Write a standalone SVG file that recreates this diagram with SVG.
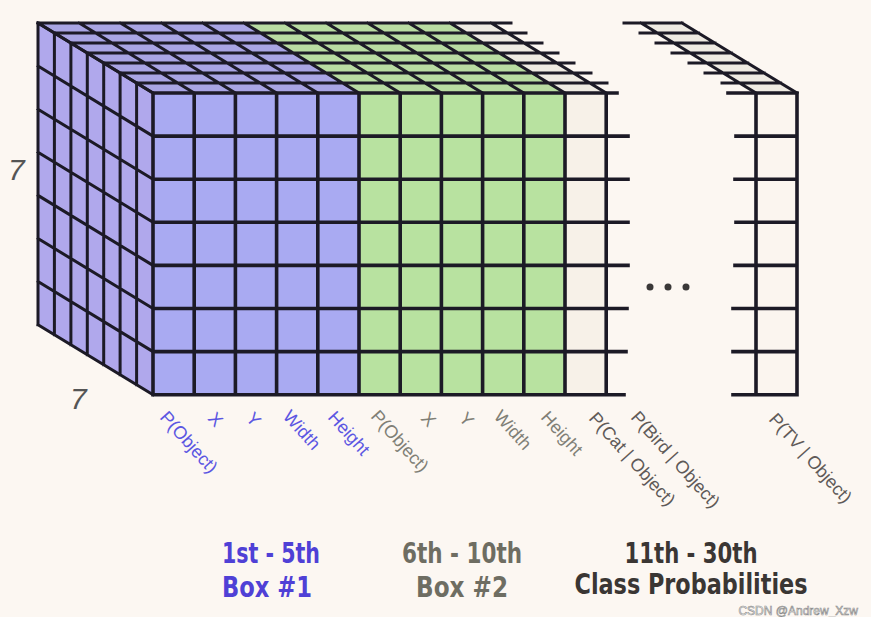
<svg xmlns="http://www.w3.org/2000/svg" width="871" height="617" viewBox="0 0 871 617">
<style>
.ln{fill:none;stroke:#1c1a26;stroke-linecap:square}
.fr{stroke-width:3.6}
.dp{stroke-width:3}
.lb{font-family:"Liberation Sans",Arial,sans-serif;font-size:18px}
.lbB{fill:#5b56e2}
.lbG{fill:#807f76}
.lbD{fill:#5f5a58}
.big{font-family:"DejaVu Sans Condensed","DejaVu Sans",sans-serif;font-size:29px;font-weight:bold;text-anchor:middle}
.seven{font-family:"Liberation Sans",Arial,sans-serif;font-size:30px;font-style:italic;fill:#555}
</style>
<rect width="871" height="617" fill="#fcf7f2"/>

<g id="main-cube">
  <polygon points="38,23 153,93 153,394.7 38,324.7" fill="#b0a8ec"/>
  <polygon points="153,93 359,93 244,23 38,23" fill="#a9a5e4"/>
  <polygon points="359,93 565,93 450,23 244,23" fill="#b9dca2"/>
  <polygon points="565,93 606.2,93 491.2,23 450,23" fill="#efebe3"/>
  <rect x="153" y="93" width="206" height="301.7" fill="#a9aaf2"/>
  <rect x="359" y="93" width="206" height="301.7" fill="#b8e2a0"/>
  <rect x="565" y="93" width="41.2" height="301.7" fill="#f7f1e8"/>
  <path class="ln dp" d="M38 23V324.7 M54.4 33V334.7 M70.9 43V344.7 M87.3 53V354.7 M103.7 63V364.7 M120.1 73V374.7 M136.6 83V384.7
    M38 23L153 93 M38 66.1L153 136.1 M38 109.2L153 179.2 M38 152.3L153 222.3 M38 195.4L153 265.4 M38 238.5L153 308.5 M38 281.6L153 351.6 M38 324.7L153 394.7"/>
  <path class="ln dp" d="M153 93L38 23 M194.2 93L79.2 23 M235.4 93L120.4 23 M276.6 93L161.6 23 M317.8 93L202.8 23 M359 93L244 23 M400.2 93L285.2 23 M441.4 93L326.4 23 M482.6 93L367.6 23 M523.8 93L408.8 23 M565 93L450 23 M606.2 93L491.2 23
    M38 23H511 M54.4 33H526 M70.9 43H542 M87.3 53H558 M103.7 63H574 M120.1 73H591 M136.6 83H607"/>
  <path class="ln fr" d="M153 93V394.7 M194.2 93V394.7 M235.4 93V394.7 M276.6 93V394.7 M317.8 93V394.7 M359 93V394.7 M400.2 93V394.7 M441.4 93V394.7 M482.6 93V394.7 M523.8 93V394.7 M565 93V394.7 M606.2 93V394.7
    M153 93H617 M153 136.1H628 M153 179.2H628 M153 222.3H628 M153 265.4H628 M153 308.5H627 M153 351.6H626 M153 394.7H624"/>
</g>

<g id="last-column">
  <polygon points="756,93 797,93 682,23 641,23" fill="#efebe3"/>
  <rect x="756" y="93" width="41" height="301.7" fill="#fbf5ef"/>
  <path class="ln dp" d="M756 93L641 23 M797 93L682 23
    M624 23H682 M640 33H698.4 M656 43H714.9 M672 53H731.3 M689 63H747.7 M705 73H764.1 M722 83H780.6"/>
  <path class="ln fr" d="M756 93V394.7 M797 93V394.7
    M728 93H797 M736 136.1H797 M735 179.2H797 M736 222.3H797 M735 265.4H797 M733 308.5H797 M733 351.6H797 M733 394.7H797"/>
</g>

<g id="ellipsis" fill="#3a3838">
  <circle cx="650" cy="287" r="3.5"/>
  <circle cx="668" cy="287" r="3.5"/>
  <circle cx="686" cy="287" r="3.5"/>
</g>

<g id="dims">
  <text class="seven" x="8" y="180">7</text>
  <text class="seven" x="70" y="409">7</text>
</g>

<g id="column-labels" class="lb">
  <text class="lbB" transform="translate(159,418) rotate(48)">P(Object)</text>
  <text class="lbB" transform="translate(207,419) rotate(48)">X</text>
  <text class="lbB" transform="translate(245,419) rotate(48)">Y</text>
  <text class="lbB" transform="translate(282,417) rotate(48)">Width</text>
  <text class="lbB" transform="translate(327,418) rotate(48)">Height</text>
  <text class="lbG" transform="translate(370,417) rotate(48)">P(Object)</text>
  <text class="lbG" transform="translate(420,419) rotate(48)">X</text>
  <text class="lbG" transform="translate(458,419) rotate(48)">Y</text>
  <text class="lbG" transform="translate(493,417) rotate(48)">Width</text>
  <text class="lbG" transform="translate(540,418) rotate(48)">Height</text>
  <text class="lbD" transform="translate(588,419) rotate(48)">P(Cat | Object)</text>
  <text class="lbD" transform="translate(630,418) rotate(48)">P(Bird | Object)</text>
  <text class="lbD" transform="translate(768,420) rotate(48)">P(TV | Object)</text>
</g>

<g id="legend">
  <text class="big" x="271" y="563" fill="#4f40d6" textLength="98" lengthAdjust="spacingAndGlyphs">1st - 5th</text>
  <text class="big" x="267" y="597" fill="#4f40d6" textLength="90" lengthAdjust="spacingAndGlyphs">Box #1</text>
  <text class="big" x="462" y="563" fill="#6e6d62" textLength="120" lengthAdjust="spacingAndGlyphs">6th - 10th</text>
  <text class="big" x="462" y="597" fill="#6e6d62" textLength="92" lengthAdjust="spacingAndGlyphs">Box #2</text>
  <text class="big" x="691" y="563" fill="#3a3634" textLength="133" lengthAdjust="spacingAndGlyphs">11th - 30th</text>
  <text class="big" x="691" y="594" fill="#3a3634" textLength="233" lengthAdjust="spacingAndGlyphs">Class Probabilities</text>
</g>

<text x="858" y="615" text-anchor="end" font-family="Liberation Sans,Arial,sans-serif" font-size="12" fill="#ffffff" stroke="#8a8a8a" stroke-width="0.6">CSDN @Andrew_Xzw</text>
</svg>
